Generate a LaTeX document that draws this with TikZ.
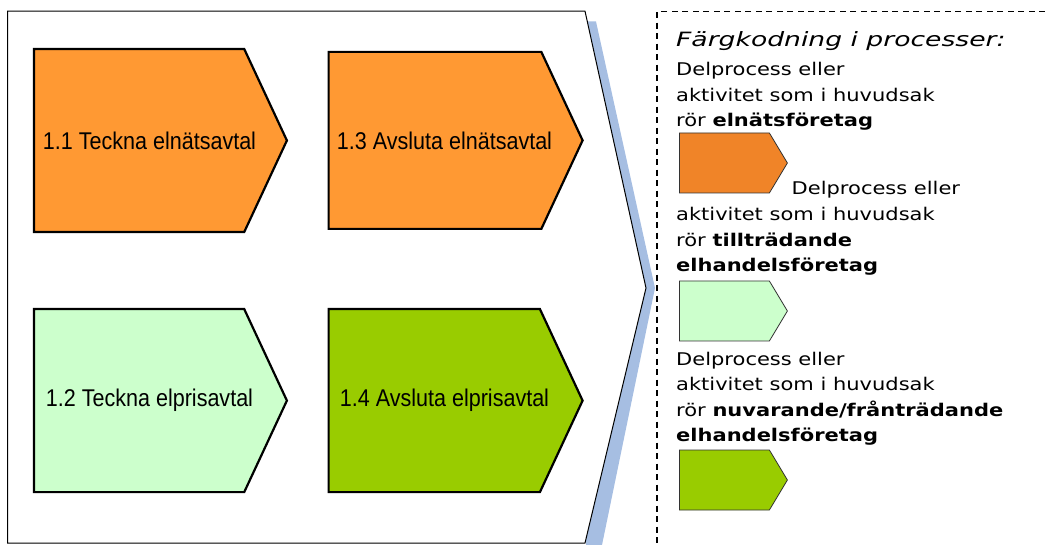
\documentclass[tikz,border=0pt]{standalone}
\usepackage{fontspec}
\setmainfont{Liberation Sans}
\newfontfamily\boxfont[FakeStretch=0.89]{Liberation Sans}
\newfontfamily\legendfont[FakeStretch=1.2]{DejaVu Sans}
\newfontfamily\titlefont[FakeStretch=1.35]{DejaVu Sans}
\usetikzlibrary{shapes.symbols, positioning}

\definecolor{elnat}{RGB}{255,153,51}
\definecolor{elnatkey}{RGB}{240,132,40}
\definecolor{tilltr}{RGB}{204,255,204}
\definecolor{franttr}{RGB}{153,204,0}
\definecolor{shadowblue}{RGB}{166,190,226}

\begin{document}
\begin{tikzpicture}[x=1pt, y=-1pt,
    proc/.style={signal, signal to=east, signal pointer angle=130, draw=black, line width=2.2pt,
        minimum width=253pt, minimum height=183pt, inner sep=0pt, anchor=west},
    proctext/.style={font=\boxfont\fontsize{24.2}{26}\selectfont, inner sep=0pt},
    keybox/.style={signal, signal to=east, signal pointer angle=118, draw=black!80, line width=0.8pt,
        minimum width=108pt, minimum height=60pt, inner sep=0pt, anchor=west},
    legendtxt/.style={font=\legendfont\fontsize{17.5}{25.5}\selectfont, align=left, inner sep=0pt, anchor=base west}]
\useasboundingbox (0,0) rectangle (1045,545);

% shadow and frame
\fill[shadowblue] (586,21.5) -- (596,21.5) -- (655,288) -- (602,545) -- (586,545) -- cycle;
\draw[fill=white, line width=1pt] (7.6,11.1) -- (585,11.1) -- (646,288) -- (585,543) -- (7.6,543) -- cycle;

% processes
\node[proc, fill=elnat] (c11) at (32.8,140.5) {};
\node[proctext] (t11) at ([xshift=116.7pt]c11.west) {1.1 Teckna elnätsavtal};
\node[proc, fill=elnat, minimum width=254pt, minimum height=177pt] (c13) at (327.5,140.4) {};
\node[proctext] (t13) at ([xshift=117pt]c13.west) {1.3 Avsluta elnätsavtal};
\node[proc, fill=tilltr] (c12) at (32.8,400.6) {};
\node[proctext] (t12) at ([xshift=116.7pt]c12.west) {1.2 Teckna elprisavtal};
\node[proc, fill=franttr, minimum width=254pt] (c14) at (327.5,400.6) {};
\node[proctext] (t14) at ([xshift=117pt]c14.west) {1.4 Avsluta elprisavtal};

% legend
\draw[dash pattern=on 6pt off 4.5pt, line width=1.2pt] (1045,11.7) -- (657,11.7) -- (657,545);
\node[legendtxt, font=\titlefont\itshape\fontsize{19.7}{22}\selectfont] (title) at (676,46.7) {Färgkodning i processer:};

\node[legendtxt] (desc1) at (676,126.7) {Delprocess eller\\aktivitet som i huvudsak\\rör \textbf{elnätsföretag}};
\node[keybox, fill=elnatkey] (key1) at (679,163) {};

\node[legendtxt] (desc2a) at (791.5,195) {Delprocess eller};
\node[legendtxt] (desc2) at (676,271.7) {aktivitet som i huvudsak\\rör \textbf{tillträdande}\\\textbf{elhandelsföretag}};
\node[keybox, fill=tilltr] (key2) at (679,311) {};

\node[legendtxt] (desc3) at (676,441.7) {Delprocess eller\\aktivitet som i huvudsak\\rör \textbf{nuvarande/frånträdande}\\\textbf{elhandelsföretag}};
\node[keybox, fill=franttr] (key3) at (679,480) {};

\end{tikzpicture}
\end{document}
